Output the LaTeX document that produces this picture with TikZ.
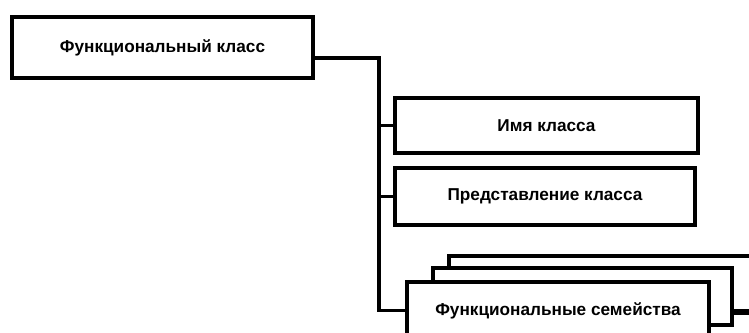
\documentclass[tikz,border=0pt]{standalone}
\usepackage{fontspec}
\setmainfont{Liberation Sans}
\usepackage{tikz}
\usetikzlibrary{positioning,calc}

\begin{document}
\begin{tikzpicture}[x=1pt, y=1pt,
  box/.style={draw, line width=3.6pt, fill=white, rectangle, inner sep=0pt,
    font=\fontsize{17.2}{19}\selectfont\bfseries},
  link/.style={line width=3.2pt}]
  \useasboundingbox (0,0) rectangle (749,332);
  \clip (0,0) rectangle (749,332);
  % class box and its parts
  \node[box, minimum width=301, minimum height=61] (cls) at (162.5,284.5) {Функциональный класс};
  \node[box, minimum width=303, minimum height=55] (name) at (546.5,206.5) {Имя класса};
  \node[box, minimum width=300, minimum height=57] (repr) at (545,135.5) {Представление класса};
  % stack of families, back to front
  \node[box, minimum width=311, minimum height=57] (famC) at (604.5,47.5) {};
  \node[box, minimum width=299, minimum height=57] (famB) at (582.5,35.5) {};
  \node[box, minimum width=302, minimum height=57] (famA) at (558,21.5) {Функциональные семейства};
  % tree lines
  \coordinate (trunk) at (379,274);
  \coordinate (tail) at (752,21.5);
  \draw[link] (trunk -| cls.east) -- (trunk) -- (trunk |- famA.west) -- (famA.west);
  \draw[link] (trunk |- name.west) -- (name.west);
  \draw[link] (trunk |- repr.west) -- (repr.west);
  \draw[link] (famA.east -| famB.east) -- (tail);
\end{tikzpicture}
\end{document}
